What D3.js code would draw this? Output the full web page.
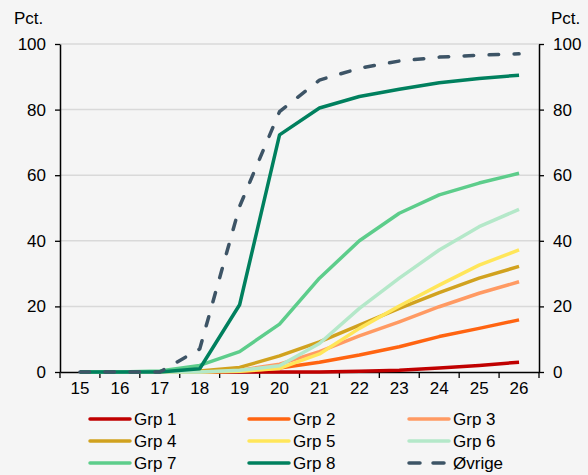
<!DOCTYPE html>
<style>
  body { margin: 0; background: #f5f5f5; }
  text { font-family: "Liberation Sans", Arial, sans-serif; fill: #000; }
</style>
<body></body>
<script src="https://cdn.jsdelivr.net/npm/d3@7"></script>
<script>
  const width = 588
  const height = 475
  const margin = { top: 44, right: 49, bottom: 103, left: 60 }

  const bgColor = "#f5f5f5"
  const gridColor = "#d9d9d9"

  // alder
  const ages = [15, 16, 17, 18, 19, 20, 21, 22, 23, 24, 25, 26]
  const yTicks = [0, 20, 40, 60, 80, 100]

  const seriesNames = ["Grp 1", "Grp 2", "Grp 3", "Grp 4", "Grp 5", "Grp 6", "Grp 7", "Grp 8", "Øvrige"]
  const seriesColors = ["#c00000", "#ff6411", "#ff9a63", "#d1a21f", "#ffe65a", "#b4e8c9", "#5dcd8b", "#00805e", "#3d5466"]

  const grp1 = [0, 0, 0, 0, 0, 0, 0, 0.2, 0.5, 1.2, 2.0, 3.0]
  const grp2 = [0, 0, 0, 0, 0.2, 1.2, 3.0, 5.2, 7.7, 10.8, 13.3, 15.9]
  const grp3 = [0, 0, 0, 0, 0.5, 2.4, 6.2, 11.0, 15.3, 19.9, 24.0, 27.5]
  const grp4 = [0, 0, 0, 0.3, 1.4, 4.9, 9.2, 14.3, 19.4, 24.2, 28.6, 32.2]
  const grp5 = [0, 0, 0, 0, 0.2, 1.1, 5.5, 13.3, 20.1, 26.5, 32.6, 37.2]
  const grp6 = [0, 0, 0, 0, 0.5, 1.9, 8.7, 19.4, 28.6, 37.2, 44.3, 49.6]
  const grp7 = [0, 0, 0.3, 2.0, 6.2, 14.6, 28.6, 40.0, 48.4, 54.0, 57.6, 60.6]
  const grp8 = [0, 0, 0, 1.0, 20.5, 72.3, 80.5, 84.0, 86.2, 88.2, 89.5, 90.5]
  const ovrige = [0, 0, 0, 7.0, 50.5, 79.4, 89.0, 92.6, 94.8, 96.0, 96.6, 97.0]

  const seriesValues = [grp1, grp2, grp3, grp4, grp5, grp6, grp7, grp8, ovrige]

  const svg = d3.select("body")
    .append("svg")
    .attr("width", width)
    .attr("height", height)

  svg.append("rect")
    .attr("width", width)
    .attr("height", height)
    .attr("fill", bgColor)

  const x = d3.scaleBand()
    .domain(ages)
    .range([margin.left, width - margin.right])

  const y = d3.scaleLinear()
    .domain([0, 100])
    .range([height - margin.bottom, margin.top])

  // gridlines
  svg.append("g")
    .selectAll("line")
    .data(yTicks.filter(d => d > 0))
    .join("line")
    .attr("x1", margin.left)
    .attr("x2", width - margin.right)
    .attr("y1", d => y(d))
    .attr("y2", d => y(d))
    .attr("stroke", gridColor)
    .attr("stroke-width", 1.5)

  const fontSize = "17px"

  // venstre og højre akse
  const leftAxis = svg.append("g")
    .attr("transform", `translate(${margin.left},0)`)
    .call(d3.axisLeft(y).tickValues(yTicks).tickSize(5).tickSizeOuter(0).tickPadding(9))
  const rightAxis = svg.append("g")
    .attr("transform", `translate(${width - margin.right},0)`)
    .call(d3.axisRight(y).tickValues(yTicks).tickSize(5).tickSizeOuter(0).tickPadding(9))

  const xAxis = svg.append("g")
    .attr("transform", `translate(0,${height - margin.bottom})`)
    .call(d3.axisBottom(x).tickSize(0).tickPadding(10))

  // tick marks between categories
  xAxis.selectAll("line.sep")
    .data(ages.concat([null]))
    .join("line")
    .attr("class", "sep")
    .attr("x1", (d, i) => margin.left + i * x.step())
    .attr("x2", (d, i) => margin.left + i * x.step())
    .attr("y1", 0)
    .attr("y2", 6)
    .attr("stroke", "#000")
    .attr("stroke-width", 1.3)

  for (const ax of [leftAxis, rightAxis, xAxis]) {
    ax.select(".domain").attr("stroke", "#000").attr("stroke-width", 1.5)
    ax.selectAll(".tick line").attr("stroke", "#000").attr("stroke-width", 1.3)
    ax.selectAll("text").attr("font-size", fontSize).attr("font-family", "Liberation Sans, Arial, sans-serif").attr("fill", "#000")
  }

  svg.append("text").attr("x", 14).attr("y", 24).attr("font-size", fontSize).text("Pct.")
  svg.append("text").attr("x", 551).attr("y", 24).attr("font-size", fontSize).text("Pct.")

  const line = d3.line()
    .x((d, i) => x(ages[i]) + x.bandwidth() / 2)
    .y(d => y(d))

  svg.append("g")
    .selectAll("path")
    .data(seriesValues)
    .join("path")
    .attr("d", line)
    .attr("fill", "none")
    .attr("stroke", (d, i) => seriesColors[i])
    .attr("stroke-width", 3.5)
    .attr("stroke-linejoin", "round")
    .attr("stroke-linecap", (d, i) => seriesNames[i] === "Øvrige" ? "round" : "butt")
    .attr("stroke-dasharray", (d, i) => seriesNames[i] === "Øvrige" ? "9.5,15.5" : null)

  // legend
  const legend = svg.append("g")
  const colX = [90, 249, 409]
  const rowY = [419, 441, 463]
  const items = legend.selectAll("g")
    .data(seriesNames)
    .join("g")
    .attr("transform", (d, i) => `translate(${colX[i % 3]},${rowY[Math.floor(i / 3)]})`)

  items.append("line")
    .attr("x1", 0)
    .attr("x2", 40)
    .attr("stroke", (d, i) => seriesColors[i])
    .attr("stroke-width", 3.5)
    .attr("stroke-linecap", "round")
    .attr("stroke-dasharray", d => d === "Øvrige" ? "11,13" : null)

  items.append("text")
    .attr("x", 44)
    .attr("y", 6)
    .attr("font-size", fontSize)
    .text(d => d)
</script>
